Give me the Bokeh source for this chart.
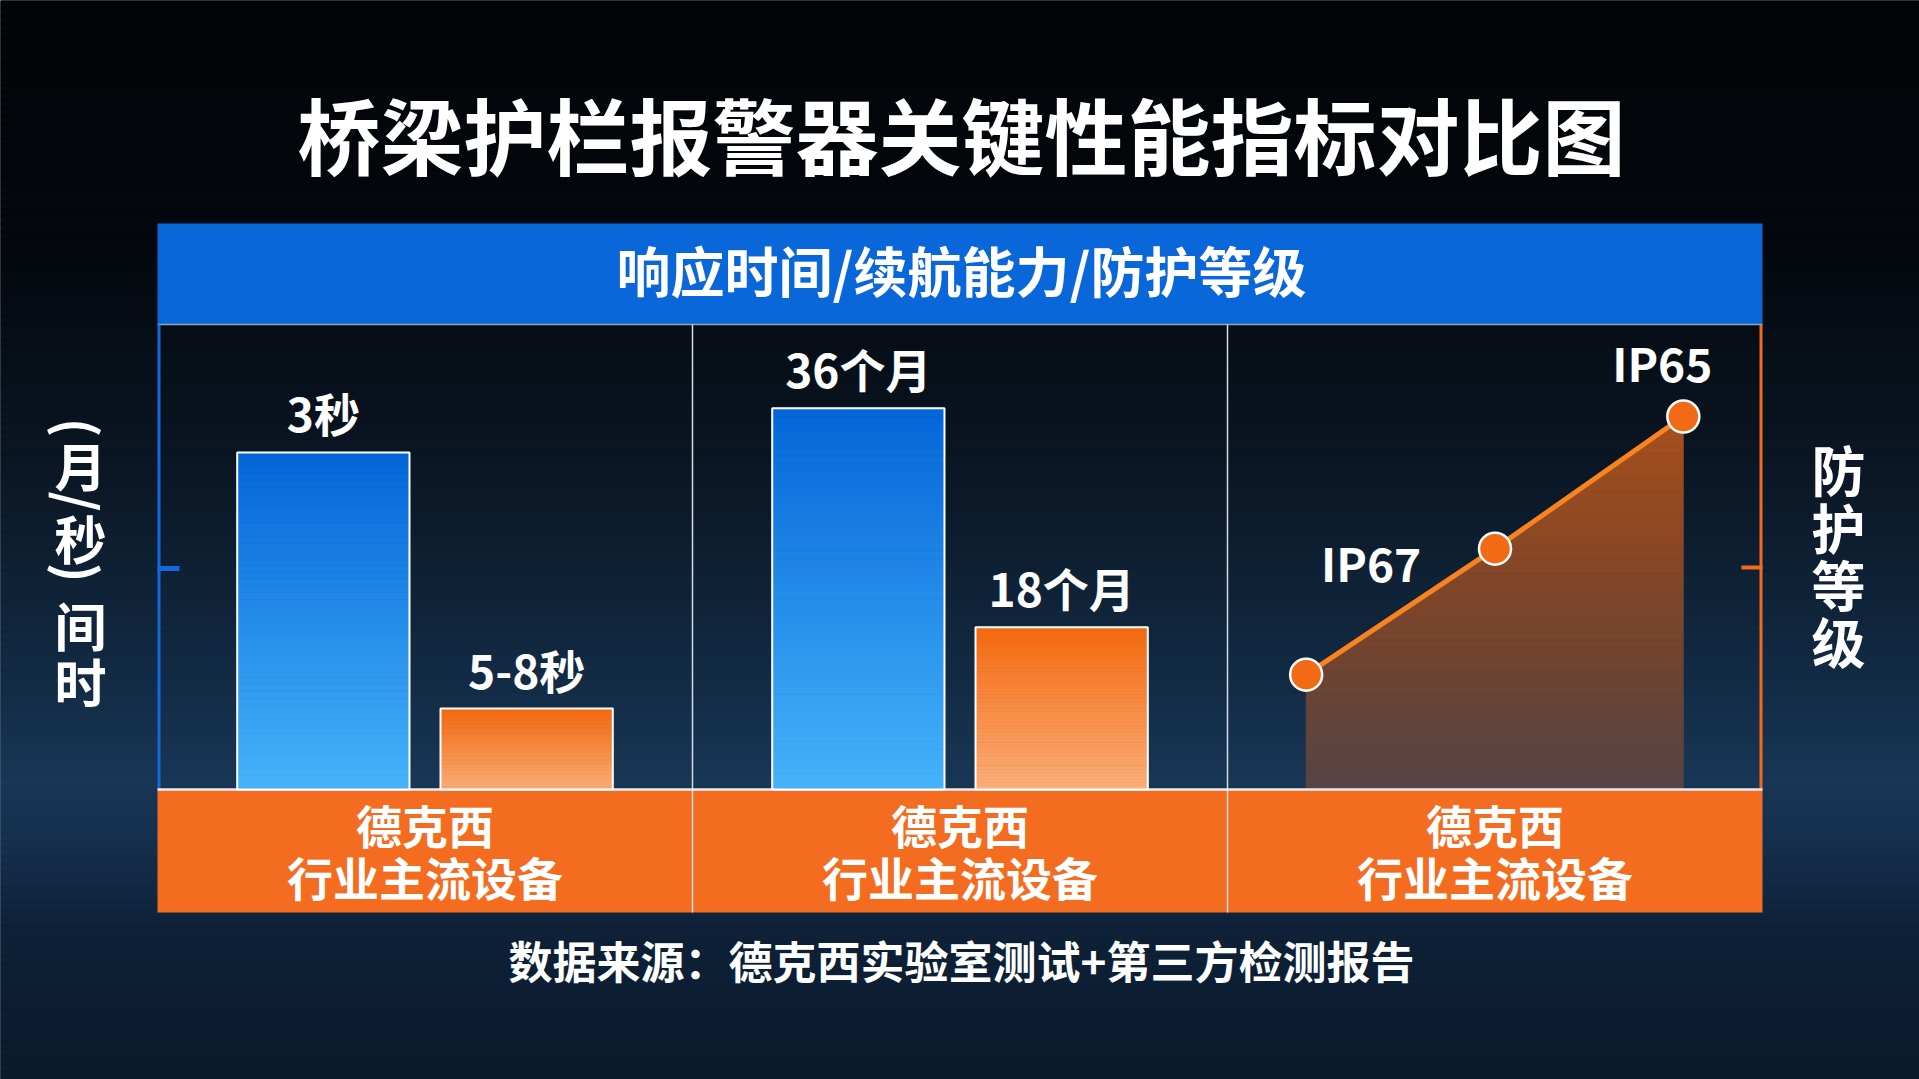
import numpy as np
from bokeh.plotting import figure
from bokeh.models import Range1d, ColumnDataSource
from bokeh.core.properties import value
from bokeh.embed import file_html
from bokeh.resources import INLINE

# ---------------- data ----------------
title_text = "桥梁护栏报警器关键性能指标对比图"
header_text = "响应时间/续航能力/防护等级"
panels = ["响应时间", "续航能力", "防护等级"]
series = ["德克西", "行业主流设备"]
# bar heights on the chart's visual scale (0-100 = full panel height)
dexi_bar_values = [72.5, 82.0]
dexi_bar_labels = ["3秒", "36个月"]
industry_bar_values = [17.4, 34.9]
industry_bar_labels = ["5-8秒", "18个月"]
protection_values = [24.7, 51.8, 80.2]
protection_labels = ["IP67", "", "IP65"]
left_axis_glyphs = ["(", "月", "/", "秒", ")", "间", "时"]
right_axis_title = "防护等级"
source_text = "数据来源：德克西实验室测试+第三方检测报告"

# ---------------- layout / style ----------------
FONT = "Noto Sans CJK SC"
W, H = 1919, 1079
TY = -5  # text vertical nudge (px)

PANEL_L, PANEL_R = 157, 1762
BASE_Y, TOP_Y = 789, 324
BAND_TOP = 223
ORANGE_BOT = 912
UNIT = (PANEL_R - PANEL_L) / 3.0
VSCALE = 100.0 / (BASE_Y - TOP_Y)

BLUE_TOP, BLUE_BOT = "#0366d9", "#46b3fa"
ORG_TOP, ORG_BOT = "#f4690f", "#fbae78"
ORANGE = "#f46c1f"
BLUE_BAND = "#0967d9"


def hex2rgb(h):
    h = h.lstrip("#")
    return np.array([int(h[i:i + 2], 16) for i in (0, 2, 4)], dtype=float)


def mix(c0, c1, t):
    a, b = hex2rgb(c0), hex2rgb(c1)
    c = a + (b - a) * t
    return "#%02x%02x%02x" % tuple(int(round(v)) for v in c)


stops_y = [0, 250, 450, 650, 780, 830, 930, 1079]
stops_c = ["#020407", "#04080e", "#0a1522", "#112840", "#183655", "#163150", "#0e2138", "#0b1a2c"]


def bg_at(yc):
    j = int(max(0, min(len(stops_y) - 2, np.searchsorted(stops_y, yc) - 1)))
    t = (yc - stops_y[j]) / (stops_y[j + 1] - stops_y[j])
    return mix(stops_c[j], stops_c[j + 1], min(max(t, 0), 1))


p = figure(width=W, height=H, x_range=Range1d(0, W), y_range=Range1d(H, 0),
           output_backend="svg", toolbar_location=None,
           x_axis_location=None, y_axis_location=None, min_border=0,
           background_fill_color="#03060a", border_fill_color="#03060a")
p.grid.visible = False
p.outline_line_color = None
p.extra_x_ranges = {"panel": Range1d(-PANEL_L / UNIT, 3 + (W - PANEL_R) / UNIT)}
p.extra_y_ranges = {"val": Range1d(-(H - BASE_Y) * VSCALE, BASE_Y * VSCALE)}

# background vertical gradient
n_bg = 140
edges = np.linspace(0, H, n_bg + 1)
bg_cols = [bg_at((edges[i] + edges[i + 1]) / 2) for i in range(n_bg)]
p.quad(left=0, right=W, top=edges[:-1], bottom=edges[1:], fill_color=bg_cols,
       line_color=bg_cols, line_width=1)

# header band & category band
p.quad(left=PANEL_L, right=PANEL_R, top=BAND_TOP, bottom=TOP_Y,
       fill_color=BLUE_BAND, line_color=None)
p.quad(left=PANEL_L, right=PANEL_R, top=BASE_Y, bottom=ORANGE_BOT,
       fill_color=ORANGE, line_color=None)

txt_kw = dict(text_font=value(FONT), text_font_style="bold", text_color="white",
              text_align="center", text_baseline="middle")

# title, header, footer
p.text(x=[961], y=[137 + TY], text=[title_text], text_font_size=value("83px"), **txt_kw)
p.text(x=[961], y=[274 + TY], text=[header_text], text_font_size=value("54px"), **txt_kw)
p.text(x=[961], y=[964 + TY], text=[source_text], text_font_size=value("44px"), **txt_kw)

# category labels in orange band
centers = [PANEL_L + UNIT * (i + 0.5) for i in range(len(panels))]
p.text(x=centers, y=[828 + TY] * 3, text=[series[0]] * 3, text_font_size=value("46px"), **txt_kw)
p.text(x=centers, y=[880 + TY] * 3, text=[series[1]] * 3, text_font_size=value("46px"), **txt_kw)

# ---------------- protection area (vertical gradient) ----------------
pt_off = [-0.353, 0.0, 0.352]
line_x = [2.5 + o for o in pt_off]
lx = np.array(line_x)
lv = np.array(protection_values, dtype=float)


def finv(v):
    return float(np.interp(v, lv, lx))


n_band = 50
vmax = lv.max()
b_edges = np.linspace(0, vmax, n_band + 1)
poly_x, poly_y, poly_c = [], [], []
for k in range(n_band):
    a, b = b_edges[k], b_edges[k + 1]
    if b <= lv[0]:
        xs = [lx[0], lx[-1], lx[-1], lx[0]]
        ys = [a, a, b, b]
    else:
        xs, ys = [], []
        if a <= lv[0]:
            xs += [lx[0]]
        else:
            xs += [finv(a)]
        ys += [a]
        xs += [lx[-1], lx[-1], finv(b)]
        ys += [a, b, b]
        for xv, vv in sorted(zip(lx, lv), reverse=True):
            if max(a, lv[0]) <= vv < b:
                xs.append(xv)
                ys.append(vv)
        if a <= lv[0]:
            xs += [lx[0]]
            ys += [lv[0]]
    ymid = BASE_Y - (a + b) / 2 / VSCALE
    t = (a + b) / 2 / vmax
    alpha = 0.32 + 0.45 * t
    poly_c.append(mix(bg_at(ymid), "#d8621e", alpha))
    poly_x.append(xs)
    poly_y.append(ys)
p.patches(xs=poly_x, ys=poly_y, fill_color=poly_c, line_color=poly_c, line_width=0.8,
          x_range_name="panel", y_range_name="val")

# frame lines
p.segment(x0=[PANEL_L], y0=[TOP_Y], x1=[PANEL_R], y1=[TOP_Y], line_color="#8fa6c0", line_width=1.5)
p.segment(x0=[PANEL_L + 1.5], y0=[TOP_Y], x1=[PANEL_L + 1.5], y1=[BASE_Y], line_color="#1468de", line_width=3)
p.segment(x0=[PANEL_R - 1.5], y0=[TOP_Y], x1=[PANEL_R - 1.5], y1=[BASE_Y], line_color="#f26a1b", line_width=3)
div_x = [PANEL_L + UNIT, PANEL_L + 2 * UNIT]
p.segment(x0=div_x, y0=[TOP_Y] * 2, x1=div_x, y1=[ORANGE_BOT] * 2, line_color="#d4dae2", line_width=1.5)
p.segment(x0=[PANEL_L], y0=[BASE_Y], x1=[PANEL_R], y1=[BASE_Y], line_color="#e8edf3", line_width=2.5)
# axis ticks
p.segment(x0=[PANEL_L], y0=[568], x1=[179], y1=[568], line_color="#1468de", line_width=5)
p.segment(x0=[1741], y0=[567], x1=[PANEL_R], y1=[567], line_color="#f26a1b", line_width=4)

# left axis title (stacked glyphs)
left_y = [427, 464, 501, 537, 572, 624, 680]
left_ang = [(-np.pi / 2 if g in "(/)" else 0.0) for g in left_axis_glyphs]
p.text(x=[80] * len(left_axis_glyphs), y=left_y, text=left_axis_glyphs,
       angle=left_ang, text_font_size=value("52px"), **txt_kw)
# right axis title (stacked glyphs)
right_chars = list(right_axis_title)
right_y = [v + TY for v in [473, 531, 588, 645]]
p.text(x=[1838] * len(right_chars), y=right_y, text=right_chars,
       text_font_size=value("54px"), **txt_kw)

# ---------------- bars ----------------
BAR_W = 0.322
BAR_OFF = 0.19


def gradient_bar(xc, v, c_bot, c_top, n=48):
    ks = np.arange(n)
    cols = [mix(c_bot, c_top, (k + 0.5) / n) for k in ks]
    src = ColumnDataSource(dict(left=[xc - BAR_W / 2] * n, right=[xc + BAR_W / 2] * n,
                                bottom=v * ks / n, top=v * (ks + 1) / n, color=cols))
    p.quad(left="left", right="right", bottom="bottom", top="top", fill_color="color",
           line_color="color", line_width=0.8, source=src,
           x_range_name="panel", y_range_name="val")
    p.quad(left=[xc - BAR_W / 2], right=[xc + BAR_W / 2], bottom=[0], top=[v],
           fill_alpha=0, line_color="white", line_width=2,
           x_range_name="panel", y_range_name="val")


bar_x_d = [i + 0.5 - BAR_OFF for i in range(len(dexi_bar_values))]
bar_x_i = [i + 0.5 + BAR_OFF for i in range(len(industry_bar_values))]
for xc, v in zip(bar_x_d, dexi_bar_values):
    gradient_bar(xc, v, BLUE_BOT, BLUE_TOP)
for xc, v in zip(bar_x_i, industry_bar_values):
    gradient_bar(xc, v, ORG_BOT, ORG_TOP)

lbl_kw = dict(text_font_size=value("46px"), x_range_name="panel", y_range_name="val", **txt_kw)
p.text(x=bar_x_d, y=dexi_bar_values, text=dexi_bar_labels, y_offset=-35 + TY, **lbl_kw)
p.text(x=bar_x_i, y=industry_bar_values, text=industry_bar_labels, y_offset=-35 + TY, **lbl_kw)

# ---------------- protection line ----------------
p.line(line_x, protection_values, line_color="#f7841f", line_width=5,
       x_range_name="panel", y_range_name="val")
p.scatter(line_x, protection_values, size=32, fill_color="#f26a15", line_color="white",
          line_width=2.5, x_range_name="panel", y_range_name="val")
p.text(x=[line_x[0]], y=[protection_values[0]], text=[protection_labels[0]],
       x_offset=65, y_offset=-108 + TY, **lbl_kw)
p.text(x=[line_x[2]], y=[protection_values[2]], text=[protection_labels[2]],
       x_offset=-21, y_offset=-50 + TY, **lbl_kw)

open("out.html", "w").write(file_html(p, INLINE))
